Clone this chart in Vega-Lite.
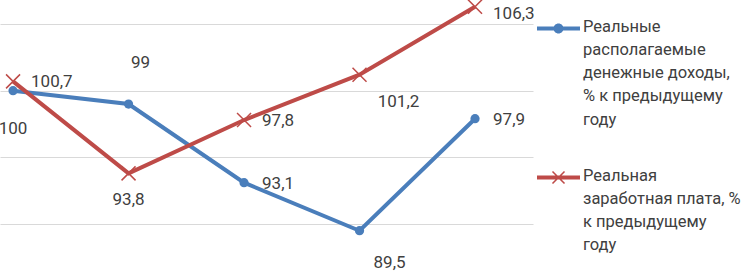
{
  "$schema": "https://vega.github.io/schema/vega-lite/v6.json",
  "width": 533,
  "height": 271,
  "autosize": {"type": "none"},
  "padding": {"left": 0, "top": 0, "right": 211, "bottom": 0},
  "background": "white",
  "config": {
    "view": {"stroke": null},
    "locale": {"number": {"decimal": ",", "thousands": "\u00a0", "grouping": [3], "currency": ["", " ₽"]}}
  },
  "data": {
    "values": [
      {"period": 1, "series": "Реальные располагаемые денежные доходы, % к предыдущему году", "value": 100},
      {"period": 2, "series": "Реальные располагаемые денежные доходы, % к предыдущему году", "value": 99},
      {"period": 3, "series": "Реальные располагаемые денежные доходы, % к предыдущему году", "value": 93.1},
      {"period": 4, "series": "Реальные располагаемые денежные доходы, % к предыдущему году", "value": 89.5},
      {"period": 5, "series": "Реальные располагаемые денежные доходы, % к предыдущему году", "value": 97.9},
      {"period": 1, "series": "Реальная заработная плата, % к предыдущему году", "value": 100.7},
      {"period": 2, "series": "Реальная заработная плата, % к предыдущему году", "value": 93.8},
      {"period": 3, "series": "Реальная заработная плата, % к предыдущему году", "value": 97.8},
      {"period": 4, "series": "Реальная заработная плата, % к предыдущему году", "value": 101.2},
      {"period": 5, "series": "Реальная заработная плата, % к предыдущему году", "value": 106.3}
    ]
  },
  "encoding": {
    "x": {"field": "period", "type": "quantitative", "scale": {"domain": [0.887, 5.502], "nice": false, "zero": false}, "axis": null},
    "y": {"field": "value", "type": "quantitative", "scale": {"domain": [86.48, 106.8], "nice": false, "zero": false},
      "axis": {"values": [90, 95, 100, 105], "grid": true, "gridColor": "#d9d9d9", "gridWidth": 1, "labels": false, "ticks": false, "domain": false, "title": null}}
  },
  "layer": [
    {
      "mark": {"type": "line", "strokeWidth": 4, "clip": false},
      "encoding": {
        "color": {
          "field": "series", "type": "nominal",
          "scale": {"domain": ["Реальные располагаемые денежные доходы, % к предыдущему году", "Реальная заработная плата, % к предыдущему году"], "range": ["#4A7EBB", "#BE4B48"]},
          "legend": {
            "orient": "right", "offset": -3, "padding": 7, "title": null,
            "labelFont": "Roboto", "labelFontSize": 16.5, "labelColor": "#404040",
            "labelOffset": 3, "labelLimit": 0, "labelBaseline": "top",
            "symbolSize": 1849, "rowPadding": 27,
            "labelExpr": "indexof(datum.label,'заработная')>=0 ? ['Реальная','заработная плата, %','к предыдущему','году'] : ['Реальные','располагаемые','денежные доходы,','% к предыдущему','году']",
            "encode": {
              "symbols": {"update": {
                "shape": {"signal": "indexof(datum.value,'заработная')>=0 ? 'M-1,-0.093H1V0.093H-1Z M-0.305,-0.255L-0.255,-0.305L0.305,0.255L0.255,0.305Z M-0.305,0.255L0.255,-0.305L0.305,-0.255L-0.255,0.305Z' : 'M-1,-0.093H1V0.093H-1Z M0.233,0 A0.233,0.233 0 1,1 -0.233,0 A0.233,0.233 0 1,1 0.233,0Z'"},
                "fill": {"scale": "color", "field": "value"},
                "stroke": {"value": "transparent"},
                "strokeWidth": {"value": 0},
                "size": {"value": 1849},
                "opacity": {"value": 1}
              }},
              "labels": {"update": {"lineHeight": {"value": 23.3}, "dy": {"value": -10}}}
            }
          }
        }
      }
    },
    {
      "transform": [{"filter": "indexof(datum.series,'заработная')<0"}],
      "mark": {"type": "point", "shape": "circle", "filled": true, "size": 85, "color": "#4A7EBB", "opacity": 1}
    },
    {
      "transform": [{"filter": "indexof(datum.series,'заработная')>=0"}],
      "mark": {"type": "point", "shape": "M-1,-1L1,1M-1,1L1,-1", "filled": false, "size": 196, "stroke": "#BE4B48", "strokeWidth": 1.5, "opacity": 1}
    },
    {
      "transform": [{"filter": "(indexof(datum.series,'заработная')<0 && (datum.period==3 || datum.period==5)) || (indexof(datum.series,'заработная')>=0 && (datum.period==1 || datum.period==3))"}],
      "mark": {"type": "text", "font": "Roboto", "fontSize": 17, "color": "#404040", "align": "left", "baseline": "middle", "dx": 18, "dy": 1},
      "encoding": {"text": {"field": "value", "type": "quantitative", "format": ".4~g"}}
    },
    {
      "transform": [{"filter": "indexof(datum.series,'заработная')>=0 && datum.period==5"}],
      "mark": {"type": "text", "font": "Roboto", "fontSize": 17, "color": "#404040", "align": "left", "baseline": "middle", "dx": 18, "dy": 7},
      "encoding": {"text": {"field": "value", "type": "quantitative", "format": ".4~g"}}
    },
    {
      "transform": [{"filter": "indexof(datum.series,'заработная')<0 && datum.period==1"}],
      "mark": {"type": "text", "font": "Roboto", "fontSize": 17, "color": "#404040", "align": "center", "baseline": "middle", "dx": 0, "dy": 38},
      "encoding": {"text": {"field": "value", "type": "quantitative", "format": ".4~g"}}
    },
    {
      "transform": [{"filter": "indexof(datum.series,'заработная')>=0 && datum.period==2"}],
      "mark": {"type": "text", "font": "Roboto", "fontSize": 17, "color": "#404040", "align": "center", "baseline": "middle", "dx": 0, "dy": 27},
      "encoding": {"text": {"field": "value", "type": "quantitative", "format": ".4~g"}}
    },
    {
      "transform": [{"filter": "indexof(datum.series,'заработная')<0 && datum.period==4"}],
      "mark": {"type": "text", "font": "Roboto", "fontSize": 17, "color": "#404040", "align": "center", "baseline": "middle", "dx": 30, "dy": 32},
      "encoding": {"text": {"field": "value", "type": "quantitative", "format": ".4~g"}}
    },
    {
      "transform": [{"filter": "indexof(datum.series,'заработная')>=0 && datum.period==4"}],
      "mark": {"type": "text", "font": "Roboto", "fontSize": 17, "color": "#404040", "align": "center", "baseline": "middle", "dx": 39, "dy": 27},
      "encoding": {"text": {"field": "value", "type": "quantitative", "format": ".4~g"}}
    },
    {
      "transform": [{"filter": "indexof(datum.series,'заработная')<0 && datum.period==2"}],
      "mark": {"type": "text", "font": "Roboto", "fontSize": 17, "color": "#404040", "align": "center", "baseline": "middle", "dx": 12, "dy": -41},
      "encoding": {"text": {"field": "value", "type": "quantitative", "format": ".4~g"}}
    }
  ]
}
